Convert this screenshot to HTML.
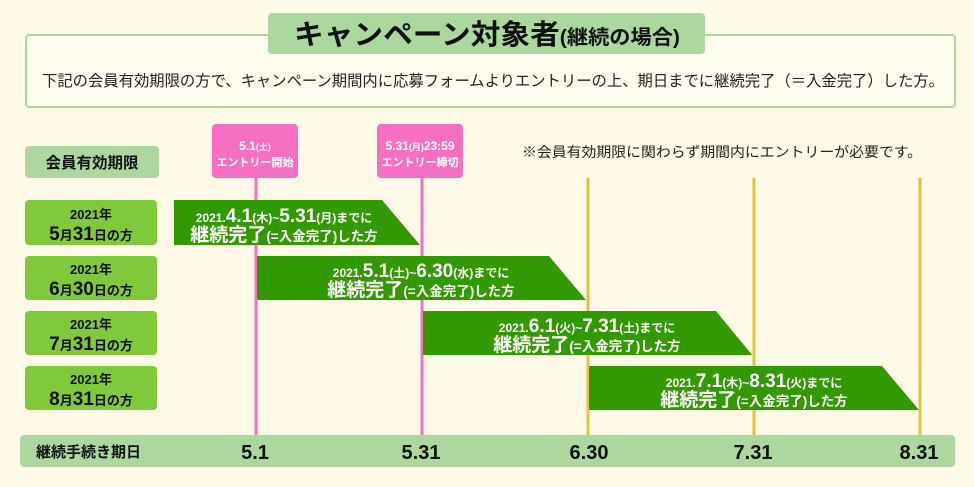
<!DOCTYPE html>
<html><head><meta charset="utf-8"><style>
html,body{margin:0;padding:0;background:#fefae7;}
svg{display:block;}
text{font-family:"Liberation Sans","Noto Sans CJK JP",sans-serif;}
.b{font-weight:bold;}
</style></head><body>
<svg width="974" height="487" viewBox="0 0 974 487" xmlns="http://www.w3.org/2000/svg">
<rect width="974" height="487" fill="#fefae7"/>
<rect x="26" y="35" width="929" height="72" rx="3" fill="#fffdf0" stroke="#acd8a0" stroke-width="2"/>
<rect x="268" y="13" width="437" height="41" rx="4" fill="#acd8a0"/>
<text x="487" y="44" text-anchor="middle" class="b" fill="#111" textLength="386" lengthAdjust="spacingAndGlyphs"><tspan font-size="28">キャンペーン対象者</tspan><tspan font-size="20">(継続の場合)</tspan></text>
<text x="42" y="86" font-size="15.5" fill="#222" textLength="902" lengthAdjust="spacingAndGlyphs">下記の会員有効期限の方で、キャンペーン期間内に応募フォームよりエントリーの上、期日までに継続完了（＝入金完了）した方。</text>
<text x="522" y="157" font-size="14" fill="#222" textLength="400" lengthAdjust="spacingAndGlyphs">※会員有効期限に関わらず期間内にエントリーが必要です。</text>
<rect x="25" y="146" width="134" height="32" rx="4" fill="#acd8a0"/>
<text x="92" y="168" text-anchor="middle" font-size="15.5" class="b" fill="#111">会員有効期限</text>
<g fill="#80c93a">
<rect x="25" y="200" width="132" height="45" rx="4"/>
<rect x="25" y="256" width="132" height="44" rx="4"/>
<rect x="25" y="311" width="132" height="44" rx="4"/>
<rect x="25" y="366" width="132" height="44" rx="4"/>
</g>
<g class="b" fill="#111" text-anchor="middle">
<text x="91" y="219" font-size="13">2021年</text><text x="91" y="240" font-size="13"><tspan font-size="19">5</tspan>月<tspan font-size="19">31</tspan>日の方</text>
<text x="91" y="274" font-size="13">2021年</text><text x="91" y="295" font-size="13"><tspan font-size="19">6</tspan>月<tspan font-size="19">30</tspan>日の方</text>
<text x="91" y="329" font-size="13">2021年</text><text x="91" y="350" font-size="13"><tspan font-size="19">7</tspan>月<tspan font-size="19">31</tspan>日の方</text>
<text x="91" y="384" font-size="13">2021年</text><text x="91" y="405" font-size="13"><tspan font-size="19">8</tspan>月<tspan font-size="19">31</tspan>日の方</text>
</g>
<g stroke-width="3">
<line x1="256" y1="178" x2="256" y2="436" stroke="#f472c0"/>
<line x1="422" y1="178" x2="422" y2="436" stroke="#f472c0"/>
<line x1="588" y1="178" x2="588" y2="436" stroke="#e2c43f"/>
<line x1="754" y1="178" x2="754" y2="436" stroke="#e2c43f"/>
<line x1="920" y1="178" x2="920" y2="436" stroke="#e2c43f"/>
</g>
<rect x="212" y="124" width="86" height="54" rx="4" fill="#f76fc3"/>
<rect x="377" y="124" width="86" height="54" rx="4" fill="#f76fc3"/>
<g class="b" fill="#fff" text-anchor="middle">
<text x="255" y="150" font-size="12">5.1<tspan font-size="9">(土)</tspan></text>
<text x="255" y="166" font-size="11">エントリー開始</text>
<text x="420" y="150" font-size="12">5.31<tspan font-size="9">(月)</tspan>23:59</text>
<text x="420" y="166" font-size="11">エントリー締切</text>
</g>
<g fill="#339900">
<polygon points="174,200 382,200 420,245 174,245"/>
<polygon points="257,256 549,256 586,300 257,300"/>
<polygon points="423,311 716,311 752,355 423,355"/>
<polygon points="589,366 882,366 919,410 589,410"/>
</g>
<g class="b" fill="#fff" text-anchor="middle">
<text x="284" y="222" font-size="12">2021.<tspan font-size="19">4.1</tspan>(木)~<tspan font-size="19">5.31</tspan>(月)までに</text>
<text x="284" y="241" font-size="13.5"><tspan font-size="19">継続完了</tspan>(=入金完了)した方</text>
<text x="421" y="277" font-size="12">2021.<tspan font-size="19">5.1</tspan>(土)~<tspan font-size="19">6.30</tspan>(水)までに</text>
<text x="421" y="296" font-size="13.5"><tspan font-size="19">継続完了</tspan>(=入金完了)した方</text>
<text x="587" y="332" font-size="12">2021.<tspan font-size="19">6.1</tspan>(火)~<tspan font-size="19">7.31</tspan>(土)までに</text>
<text x="587" y="351" font-size="13.5"><tspan font-size="19">継続完了</tspan>(=入金完了)した方</text>
<text x="754" y="387" font-size="12">2021.<tspan font-size="19">7.1</tspan>(木)~<tspan font-size="19">8.31</tspan>(火)までに</text>
<text x="754" y="406" font-size="13.5"><tspan font-size="19">継続完了</tspan>(=入金完了)した方</text>
</g>
<rect x="20" y="435" width="935" height="32" rx="4" fill="#acd8a0"/>
<g class="b" fill="#111">
<text x="36" y="457" font-size="15">継続手続き期日</text>
<g font-size="20" text-anchor="middle">
<text x="255" y="459">5.1</text>
<text x="421" y="459">5.31</text>
<text x="589" y="459">6.30</text>
<text x="753" y="459">7.31</text>
<text x="919" y="459">8.31</text>
</g></g>
</svg>
</body></html>
